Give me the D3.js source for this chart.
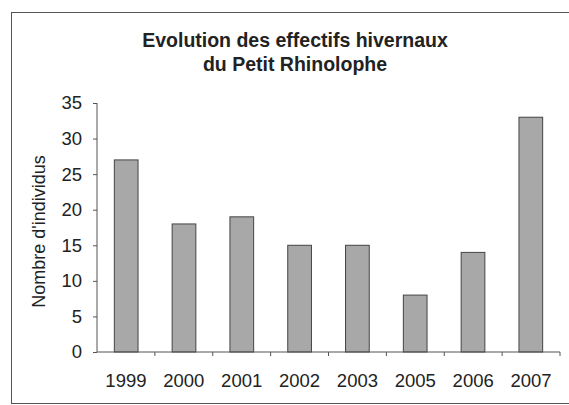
<!DOCTYPE html>
<html><head><meta charset="utf-8">
<script src="https://cdn.jsdelivr.net/npm/d3@7"></script>
<style>body{margin:0;background:#fff}svg{display:block;font-family:"Liberation Sans",Arial,sans-serif}</style>
</head><body><svg id="c" width="569" height="405"></svg>
<script>
const categories=["1999","2000","2001","2002","2003","2005","2006","2007"];
const values=[27,18,19,15,15,8,14,33];
const yTicks=[0,5,10,15,20,25,30,35];
const titleLines=["Evolution des effectifs hivernaux","du Petit Rhinolophe"];
const yLabel="Nombre d'individus";

const svg=d3.select("#c");
// frame
svg.append("rect").attr("x",11.5).attr("y",12.5).attr("width",570).attr("height",391)
  .attr("fill","none").attr("stroke","#555").attr("stroke-width",1);

const m={l:97,r:560,t:103,b:352};
const x=d3.scaleBand().domain(categories).range([m.l,m.r]).paddingInner(0.59).paddingOuter(0.3);
const xb=d3.scaleBand().domain(categories).range([m.l,m.r]);
const y=d3.scaleLinear().domain([0,35]).range([m.b,m.t]);

svg.selectAll("text.t").data(titleLines).join("text").attr("class","t")
  .attr("x",295).attr("y",(d,i)=>47+i*24).attr("text-anchor","middle")
  .attr("font-size",19.5).attr("font-weight","bold").attr("fill","#222").text(d=>d);

// bars
const g=svg.append("g");
g.selectAll("rect.bar").data(values).join("rect").attr("class","bar")
  .attr("x",(d,i)=>x(categories[i])).attr("width",x.bandwidth())
  .attr("y",d=>y(d)).attr("height",d=>y(0)-y(d))
  .attr("fill","#a8a8a8").attr("stroke","#444").attr("stroke-width",1);

// y axis
const ya=svg.append("g").attr("transform",`translate(${m.l},0)`)
  .call(d3.axisLeft(y).tickValues(yTicks).tickSize(4).tickPadding(11));
ya.selectAll("text").attr("font-size",18.5).attr("fill","#222").attr("font-family","'Liberation Sans',Arial,sans-serif");
ya.selectAll("line,path").attr("stroke","#555");
ya.select("path").attr("d",`M0,${m.b}V${m.t}`);

// x axis
const xa=svg.append("g").attr("transform",`translate(0,${m.b})`);
xa.append("line").attr("x1",m.l).attr("x2",m.r).attr("stroke","#555");
xa.selectAll("line.tk").data(categories).join("line").attr("class","tk")
  .attr("x1",d=>xb(d)+xb.bandwidth()).attr("x2",d=>xb(d)+xb.bandwidth()).attr("y1",0).attr("y2",4).attr("stroke","#555");
xa.selectAll("text").data(categories).join("text")
  .attr("x",d=>xb(d)+xb.bandwidth()/2).attr("y",35).attr("text-anchor","middle")
  .attr("font-size",18.5).attr("fill","#222").text(d=>d);

svg.append("text").attr("transform",`translate(45,${(m.t+m.b)/2+4}) rotate(-90)`)
  .attr("text-anchor","middle").attr("font-size",18).attr("fill","#222").text(yLabel);
</script></body></html>
